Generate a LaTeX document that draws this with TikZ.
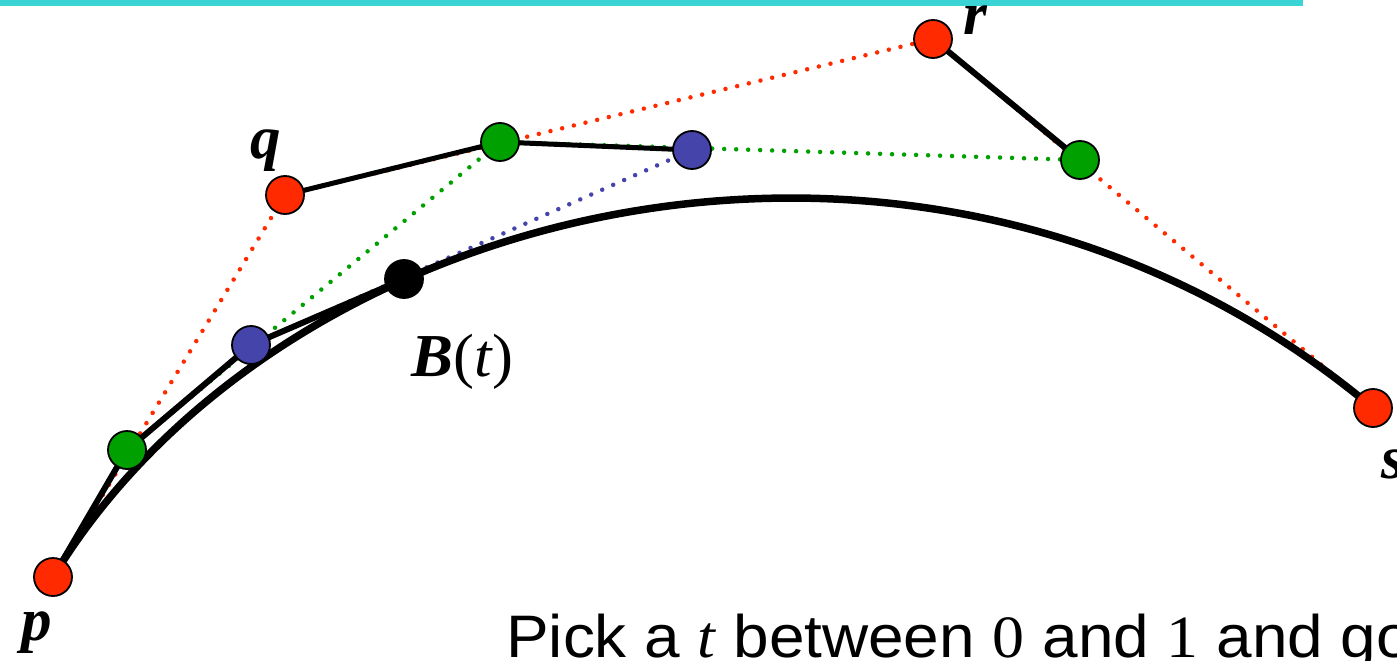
\documentclass[tikz,border=0pt]{standalone}
\usepackage{fontspec}
\setmainfont{Liberation Serif}
\setsansfont{Liberation Sans}
\pgfdeclarelayer{bg}
\pgfsetlayers{bg,main}
\definecolor{ptred}{RGB}{255,42,0}
\definecolor{ptgreen}{RGB}{0,160,0}
\definecolor{ptblue}{RGB}{68,68,170}
\definecolor{barcyan}{RGB}{58,212,212}
\tikzset{
  ctrl/.style={circle,draw=black,line width=1.8pt,minimum size=38pt,inner sep=0pt},
  dots/.style={line width=4.5pt,line cap=round,dash pattern=on 0pt off 12pt},
  seg/.style={line width=6pt},
  curve/.style={line width=7.5pt},
  lbl/.style={font=\fontsize{61}{72}\selectfont\bfseries\itshape,inner sep=0pt,anchor=base},
}
\begin{document}
\begin{tikzpicture}[x=1pt,y=-1pt]
\useasboundingbox (0,0) rectangle (1397,661);
\clip (0,0) rectangle (1397,661);
\fill[barcyan] (0,0) rectangle (1303,6);
% control points and de Casteljau points
\node[ctrl,fill=ptred]   (p)  at (53,577) {};
\node[ctrl,fill=ptred]   (q)  at (285,195) {};
\node[ctrl,fill=ptred]   (r)  at (933,39) {};
\node[ctrl,fill=ptred]   (s)  at (1373,408) {};
\node[ctrl,fill=ptgreen] (g1) at (127,450) {};
\node[ctrl,fill=ptgreen] (g2) at (500,142) {};
\node[ctrl,fill=ptgreen] (g3) at (1080,160) {};
\node[ctrl,fill=ptblue]  (b1) at (251,345) {};
\node[ctrl,fill=ptblue]  (b2) at (692,150) {};
\node[ctrl,fill=black]   (bt) at (404,279) {};
\begin{pgfonlayer}{bg}
  \draw[dots,ptred] (p.center) -- (q.center) -- (r.center) -- (s.center);
  \draw[dots,ptgreen] (g1.center) -- (g2.center) -- (g3.center);
  \draw[dots,ptblue] (b1.center) -- (b2.center);
  \draw[seg] (p.center) -- (g1.center);
  \draw[seg,line width=5pt] (q.center) -- (g2.center);
  \draw[seg] (r.center) -- (g3.center);
  \draw[seg] (g1.center) -- (b1.center);
  \draw[seg,line width=5pt] (g2.center) -- (b2.center);
  \draw[seg] (b1.center) -- (bt.center);
  \draw[curve] (p.center) .. controls (q.center) and (r.center) .. (s.center);
\end{pgfonlayer}
% labels
\node[lbl] (lp) at (37,640) {p};
\node[lbl] (lq) at (266,158) {q};
\node[lbl] (lr) at (975,35) {r};
\node[lbl] (ls) at (1393,478) {s};
\node[font=\fontsize{61}{72}\selectfont,inner sep=0pt,anchor=base west] (lb) at (411,376) {\scalebox{1.03}[1]{{\bfseries\itshape B}(\textit{t})}};
\node[font=\fontsize{60}{72}\selectfont\sffamily,inner sep=0pt,anchor=base west] (txt) at (506,657)
  {\scalebox{1.065}[1]{Pick a {\rmfamily\itshape t} between {\rmfamily 0} and {\rmfamily 1} and go}};
\end{tikzpicture}
\end{document}
